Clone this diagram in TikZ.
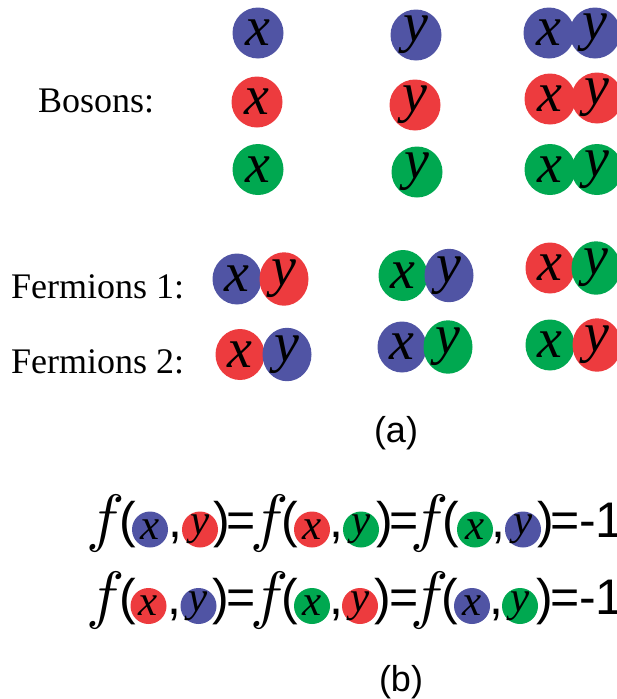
\documentclass[tikz,border=0pt]{standalone}
\usepackage{fontspec}
\setmainfont{Liberation Serif}
\newfontfamily\arialf{Liberation Sans}
\usetikzlibrary{shapes.geometric}
\definecolor{cblue}{RGB}{80,84,164}
\definecolor{cred}{RGB}{237,59,62}
\definecolor{cgreen}{RGB}{0,168,80}
\newcommand{\bigf}{\scalebox{6.4}{$f$}}
\tikzset{
  ball/.style={circle, fill=#1, minimum size=51pt, inner sep=0pt, font=\fontsize{56}{56}\selectfont\itshape},
  fball/.style={ellipse, fill=#1, minimum width=49pt, minimum height=51pt, inner sep=0pt, font=\fontsize{56}{56}\selectfont\itshape},
  eball/.style={circle, fill=#1, minimum size=36pt, inner sep=0pt, font=\fontsize{43}{43}\selectfont\itshape},
  lbl/.style={anchor=base west, inner sep=0pt, font=\fontsize{36}{40}\selectfont},
  sym/.style={anchor=base, inner sep=0pt, font=\arialf\fontsize{50}{50}\selectfont},
  ff/.style={anchor=base, inner sep=0pt},
  captxt/.style={inner sep=0pt, font=\arialf\fontsize{36}{40}\selectfont},
}
\begin{document}
\begin{tikzpicture}[x=1pt,y=-1pt]
\useasboundingbox (0,0) rectangle (617,699);
% Bosons
\node[lbl] (bos) at (38,112) {Bosons:};
\node[ball=cblue] (b1x) at (258,33) {x};
\node[ball=cblue] (b1y) at (416,35) {y};
\node[ball=cblue] (b1px) at (549,33) {x};
\node[ball=cblue] (b1py) at (595,33) {y};
\node[ball=cred] (b2x) at (257,102) {x};
\node[ball=cred] (b2y) at (415,105) {y};
\node[ball=cred] (b2px) at (550,99) {x};
\node[ball=cred] (b2py) at (597,98) {y};
\node[ball=cgreen] (b3x) at (258,169.5) {x};
\node[ball=cgreen] (b3y) at (417,172) {y};
\node[ball=cgreen] (b3px) at (550,169.5) {x};
\node[ball=cgreen] (b3py) at (597,169.5) {y};
% Fermions
\node[lbl] (fer1) at (11,298) {Fermions 1:};
\node[lbl] (fer2) at (11,373) {Fermions 2:};
\node[fball=cblue] (f1ax) at (237,279) {x};
\node[fball=cred] (f1ay) at (284,279) {y};
\node[fball=cgreen] (f1bx) at (403,275.5) {x};
\node[fball=cblue] (f1by) at (449,275.5) {y};
\node[fball=cred] (f1cx) at (550,268) {x};
\node[fball=cgreen] (f1cy) at (596,268) {y};
\node[fball=cred] (f2ax) at (240,354.5) {x};
\node[fball=cblue] (f2ay) at (287,354.5) {y};
\node[fball=cblue] (f2bx) at (402,347) {x};
\node[fball=cgreen] (f2by) at (448,347) {y};
\node[fball=cgreen] (f2cx) at (550,345) {x};
\node[fball=cred] (f2cy) at (597,345) {y};
\node[captxt] (capa) at (396,433) {(a)};
% Equation row 1
\node[ff] (f11) at (106,539) {\bigf};
\node[sym] (lp11) at (128,537) {(};
\node[sym] (cm11) at (175,537) {,};
\node[sym] (rp11) at (222,537) {)};
\node[sym] (eq11) at (241.5,537) {=};
\node[ff] (f12) at (270,539) {\bigf};
\node[sym] (lp12) at (290,537) {(};
\node[sym] (cm12) at (336,537) {,};
\node[sym] (rp12) at (385,537) {)};
\node[sym] (eq12) at (404,537) {=};
\node[ff] (f13) at (430,539) {\bigf};
\node[sym] (lp13) at (451,537) {(};
\node[sym] (cm13) at (498,537) {,};
\node[sym] (rp13) at (546,537) {)};
\node[sym] (eq13) at (565.5,537) {=};
\node[sym, anchor=base west] (m1) at (579,537) {-1};
\node[eball=cblue] (e11x) at (150,529.5) {x};
\node[eball=cred] (e11y) at (200,529.5) {y};
\node[eball=cred] (e12x) at (312,529.5) {x};
\node[eball=cgreen] (e12y) at (361,529.5) {y};
\node[eball=cgreen] (e13x) at (475,529.5) {x};
\node[eball=cblue] (e13y) at (523,529.5) {y};
% Equation row 2
\node[ff] (f21) at (106,616) {\bigf};
\node[sym] (lp21) at (128,614) {(};
\node[sym] (cm21) at (174,614) {,};
\node[sym] (rp21) at (221,614) {)};
\node[sym] (eq21) at (241.5,614) {=};
\node[ff] (f22) at (270,616) {\bigf};
\node[sym] (lp22) at (290,614) {(};
\node[sym] (cm22) at (336,614) {,};
\node[sym] (rp22) at (383,614) {)};
\node[sym] (eq22) at (404,614) {=};
\node[ff] (f23) at (430,616) {\bigf};
\node[sym] (lp23) at (450,614) {(};
\node[sym] (cm23) at (496,614) {,};
\node[sym] (rp23) at (545,614) {)};
\node[sym] (eq23) at (565.5,614) {=};
\node[sym, anchor=base west] (m2) at (579,614) {-1};
\node[eball=cred] (e21x) at (148.5,606) {x};
\node[eball=cblue] (e21y) at (198.5,606) {y};
\node[eball=cgreen] (e22x) at (312,606) {x};
\node[eball=cred] (e22y) at (360,606) {y};
\node[eball=cblue] (e23x) at (472,606) {x};
\node[eball=cgreen] (e23y) at (520,606) {y};
\node[captxt] (capb) at (401,682) {(b)};
\end{tikzpicture}
\end{document}
